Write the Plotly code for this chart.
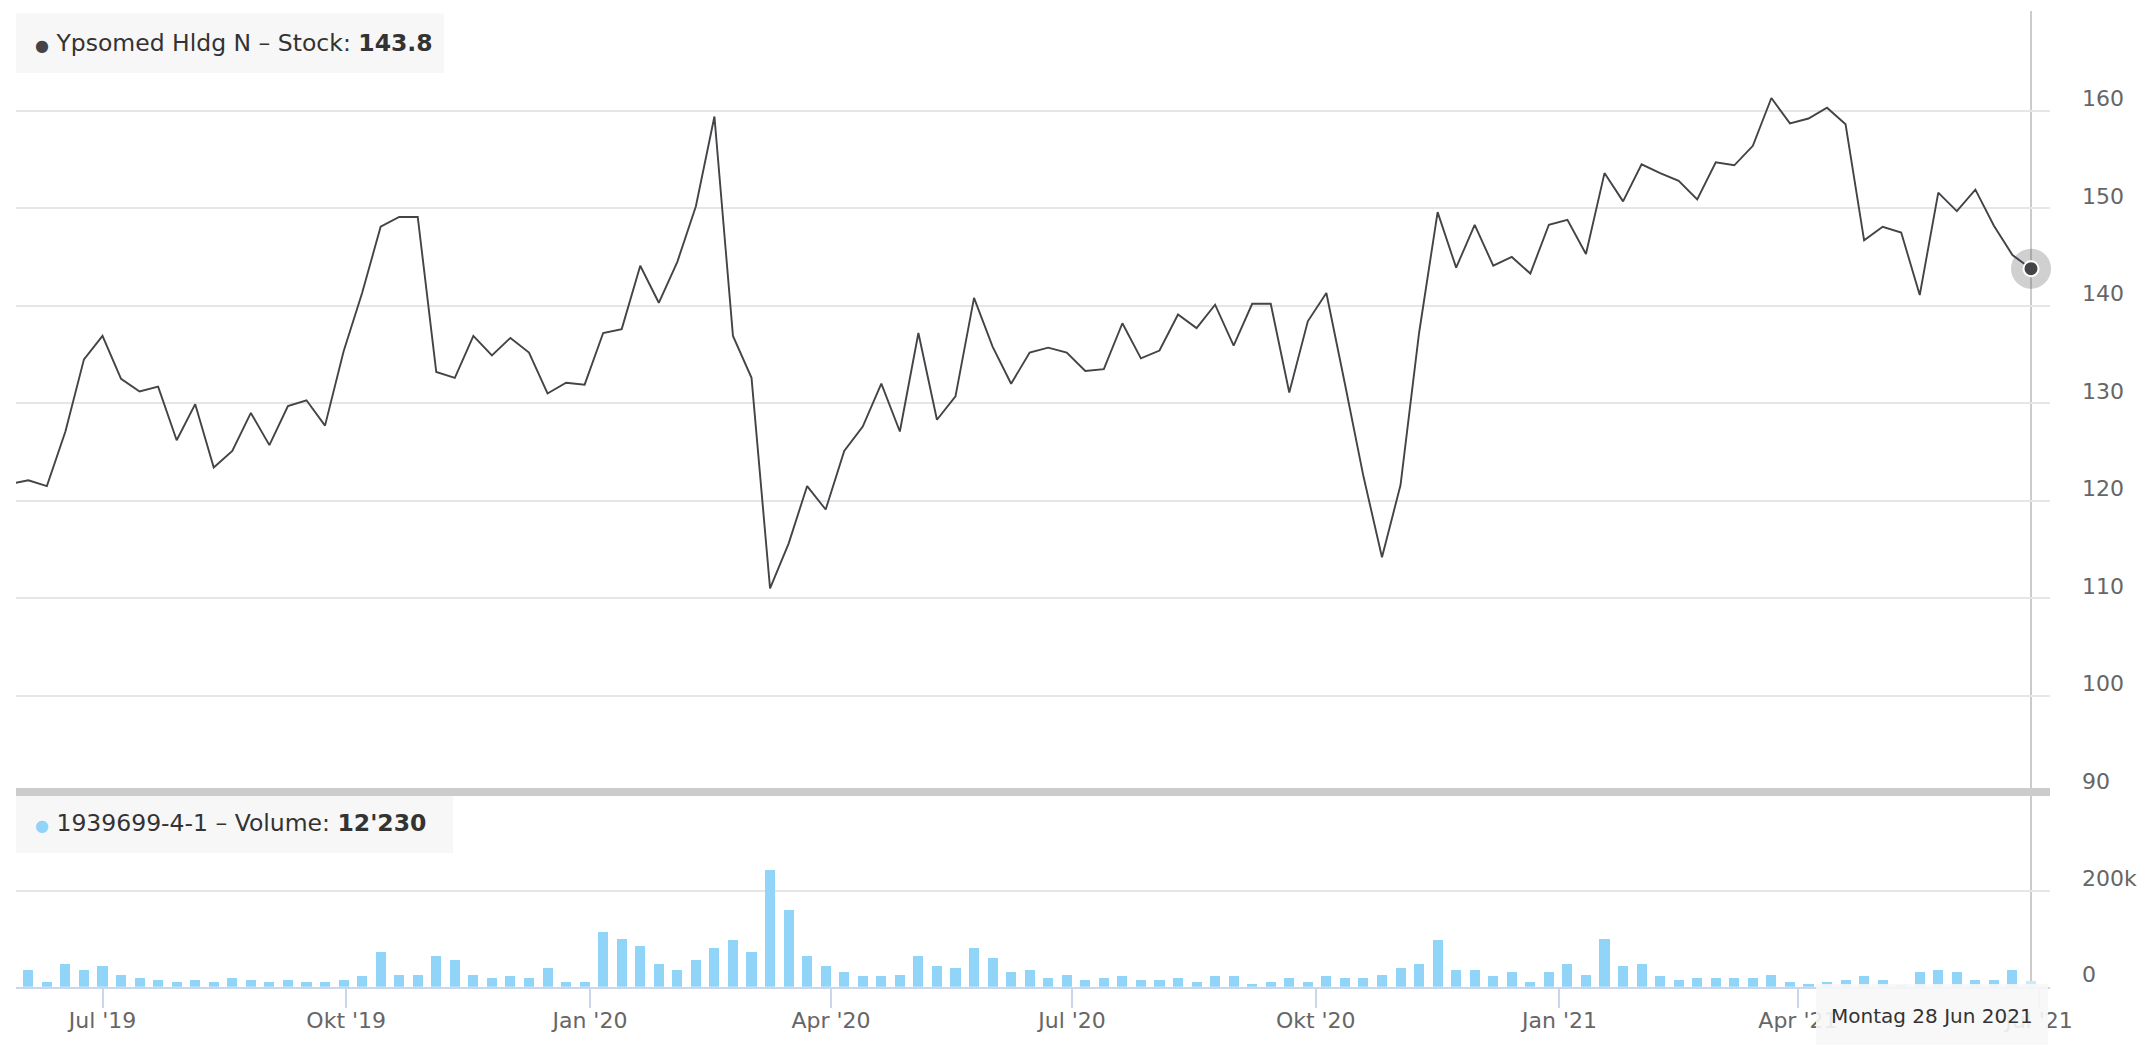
import pandas as pd
import plotly.graph_objects as go

# ---------------- data ----------------
week_start = "2019-05-27"
price = [121.7, 122.1, 121.5, 127.1, 134.5, 136.9, 132.5, 131.2, 131.7, 126.2, 129.9,
         123.4, 125.1, 129.0, 125.7, 129.7, 130.3, 127.7, 135.3, 141.3, 148.1,
         149.1, 149.1, 133.2, 132.6, 136.9, 134.9, 136.7, 135.2, 131.0, 132.1,
         131.9, 137.2, 137.6, 144.1, 140.3, 144.5, 150.2, 159.4, 136.9, 132.6,
         111.0, 115.6, 121.5, 119.1, 125.1, 127.6, 132.0, 127.1, 137.2, 128.3,
         130.7, 140.8, 135.8, 132.0, 135.2, 135.7, 135.2, 133.3, 133.5, 138.2,
         134.6, 135.4, 139.1, 137.7, 140.1, 135.9, 140.2, 140.2, 131.1, 138.4,
         141.3, 132.0, 122.5, 114.2, 121.6, 137.2, 149.6, 143.9, 148.3, 144.1,
         145.0, 143.3, 148.3, 148.8, 145.3, 153.6, 150.7, 154.5, 153.6, 152.8,
         150.9, 154.7, 154.4, 156.4, 161.3, 158.7, 159.2, 160.3, 158.6, 146.7,
         148.1, 147.5, 141.1, 151.6, 149.7, 151.9, 148.2, 145.2, 143.8]
volume = [None, 34700, 9700, 47000, 34700, 43000, 26000, 18000, 14000, 9700, 14000,
          9700, 18000, 14000, 9700, 14000, 9700, 9700, 14000, 22000, 72000,
          26000, 26000, 64000, 55500, 26000, 18000, 22000, 18000, 39000, 9700,
          9700, 114000, 101000, 85000, 47000, 34700, 55500, 80500, 97000, 72000,
          243000, 160000, 64000, 43000, 30500, 22000, 22000, 26000, 64000, 43000,
          39000, 80500, 60000, 30500, 34700, 18000, 26000, 14000, 18000, 22000,
          14000, 14000, 18000, 9700, 22000, 22000, 5500, 9700, 18000, 9700,
          22000, 18000, 18000, 26000, 39000, 47000, 97000, 34700, 34700, 22000,
          30500, 9700, 30500, 47000, 26000, 101000, 43000, 47000, 22000, 14000,
          18000, 18000, 18000, 18000, 26000, 9700, 5500, 9700, 14000, 22000,
          14000, 5000, 30500, 34700, 30500, 14000, 14000, 34700, 12230]
tick_dates = ["2019-07-01", "2019-10-01", "2020-01-01", "2020-04-01", "2020-07-01",
              "2020-10-01", "2021-01-01", "2021-04-01", "2021-07-01"]
tick_labels = ["Jul '19", "Okt '19", "Jan '20", "Apr '20", "Jul '20",
               "Okt '20", "Jan '21", "Apr '21", "Jul '21"]
price_ticks = [90, 100, 110, 120, 130, 140, 150, 160, 170]
price_labels = ["90", "100", "110", "120", "130", "140", "150", "160", ""]
vol_ticks = [0, 200000]
vol_labels = ["0", "200k"]
stock_name = "Ypsomed Hldg N – Stock"
vol_name = "1939699-4-1 – Volume"
vol_last_label = "12'230"
tooltip_text = "Montag 28 Jun 2021"

dates = pd.date_range(week_start, periods=len(price), freq="W-MON")

W, H = 2144, 1060
def px(x): return x / W
def py(y): return 1 - y / H

# x range (plot spans pixels 16..2050)
ppd = 2.649
ref = pd.Timestamp("2019-07-01")
x0 = ref - pd.Timedelta(days=(102.5 - 16) / ppd)
x1 = pd.Timestamp("2021-06-28") + pd.Timedelta(days=(2050 - 2031) / ppd)

LINE = "#434348"
BAR = "#90d4f7"
FONT = "DejaVu Sans"

bar_colors = [BAR] * (len(volume) - 1) + ["#c3effd"]

fig = go.Figure()
fig.add_trace(go.Scatter(x=dates, y=price, mode="lines", line=dict(color=LINE, width=1.9),
                         xaxis="x", yaxis="y", hoverinfo="skip"))
fig.add_trace(go.Bar(x=dates, y=volume, marker=dict(color=bar_colors, line=dict(width=0)),
                     width=3.8 * 86400000, xaxis="x", yaxis="y2", hoverinfo="skip"))
# hovered point halo + marker
fig.add_trace(go.Scatter(x=[dates[-1]], y=[price[-1]], mode="markers",
                         marker=dict(size=40, color="rgba(67,67,72,0.25)"),
                         xaxis="x", yaxis="y", cliponaxis=False, hoverinfo="skip"))
fig.add_trace(go.Scatter(x=[dates[-1]], y=[price[-1]], mode="markers",
                         marker=dict(size=15, color=LINE, line=dict(color="white", width=2)),
                         xaxis="x", yaxis="y", cliponaxis=False, hoverinfo="skip"))

fig.update_layout(
    width=W, height=H, margin=dict(l=0, r=0, t=0, b=0, autoexpand=False),
    paper_bgcolor="white", plot_bgcolor="white", showlegend=False,
    font=dict(family=FONT, color="#666666", size=22),
    bargap=0,
    xaxis=dict(domain=[px(16), px(2050)], range=[x0, x1], type="date", anchor="y2",
               automargin=False,
               tickvals=tick_dates, ticktext=tick_labels, showgrid=False, zeroline=False,
               showline=True, linecolor="#ccd6eb", linewidth=2,
               ticks="outside", ticklen=19, tickwidth=2, tickcolor="#ccd6eb",
               ticklabelstandoff=-6,
               tickfont=dict(size=22, color="#666666")),
    yaxis=dict(domain=[py(793.2), py(13.2)], range=[90, 170], side="right", anchor="x",
               automargin=False,
               tickvals=price_ticks, ticktext=price_labels, showgrid=True,
               gridcolor="#e6e6e6", gridwidth=2, zeroline=False, showline=False,
               ticks="", ticklabelstandoff=31, ticklabelshift=-12,
               tickfont=dict(size=22, color="#666666")),
    yaxis2=dict(domain=[py(986.7), py(794.7)], range=[0, 400000], side="right", anchor="x",
                automargin=False,
                tickvals=vol_ticks, ticktext=vol_labels, showgrid=True,
                gridcolor="#e6e6e6", gridwidth=2, zeroline=False, showline=False,
                ticks="", ticklabelstandoff=31, ticklabelshift=-12,
                tickfont=dict(size=22, color="#666666")),
)

shapes = [
    # crosshair
    dict(type="line", xref="x", yref="paper", x0=dates[-1], x1=dates[-1],
         y0=py(984), y1=py(11), line=dict(color="#cccccc", width=2), layer="below"),
    # price legend box
    dict(type="rect", xref="paper", yref="paper", x0=px(16), x1=px(444),
         y0=py(73), y1=py(13.5), fillcolor="#f7f7f7", line=dict(width=0), layer="above"),
    # volume legend box
    dict(type="rect", xref="paper", yref="paper", x0=px(16), x1=px(453),
         y0=py(853), y1=py(792), fillcolor="#f7f7f7", line=dict(width=0), layer="above"),
    # pane separator
    dict(type="rect", xref="paper", yref="paper", x0=px(16), x1=px(2050),
         y0=py(796), y1=py(788), fillcolor="#cccccc", line=dict(width=0), layer="above"),
    # tooltip box
    dict(type="rect", xref="paper", yref="paper", x0=px(1816), x1=px(2048),
         y0=py(1045), y1=py(984), fillcolor="rgba(247,247,247,0.9)",
         line=dict(width=0), layer="above"),
]
fig.update_layout(shapes=shapes)

annotations = [
    dict(xref="paper", yref="paper", x=px(33), y=py(43), xanchor="left", yanchor="middle",
         showarrow=False, font=dict(family=FONT, size=23.5, color="#333333"),
         text=f"<span style='color:{LINE};font-size:16px'>●</span> {stock_name}: <b>{price[-1]}</b>"),
    dict(xref="paper", yref="paper", x=px(33), y=py(823), xanchor="left", yanchor="middle",
         showarrow=False, font=dict(family=FONT, size=23.5, color="#333333"),
         text=f"<span style='color:{BAR};font-size:16px'>●</span> {vol_name}: <b>{vol_last_label}</b>"),
    dict(xref="paper", yref="paper", x=px(1932), y=py(1016), xanchor="center", yanchor="middle",
         showarrow=False, font=dict(family=FONT, size=20, color="#333333"),
         text=tooltip_text),
]
fig.update_layout(annotations=annotations)

fig.write_html("out.html", config={"displayModeBar": False},
               post_script="document.body.style.margin='0';document.body.style.overflow='hidden';")
